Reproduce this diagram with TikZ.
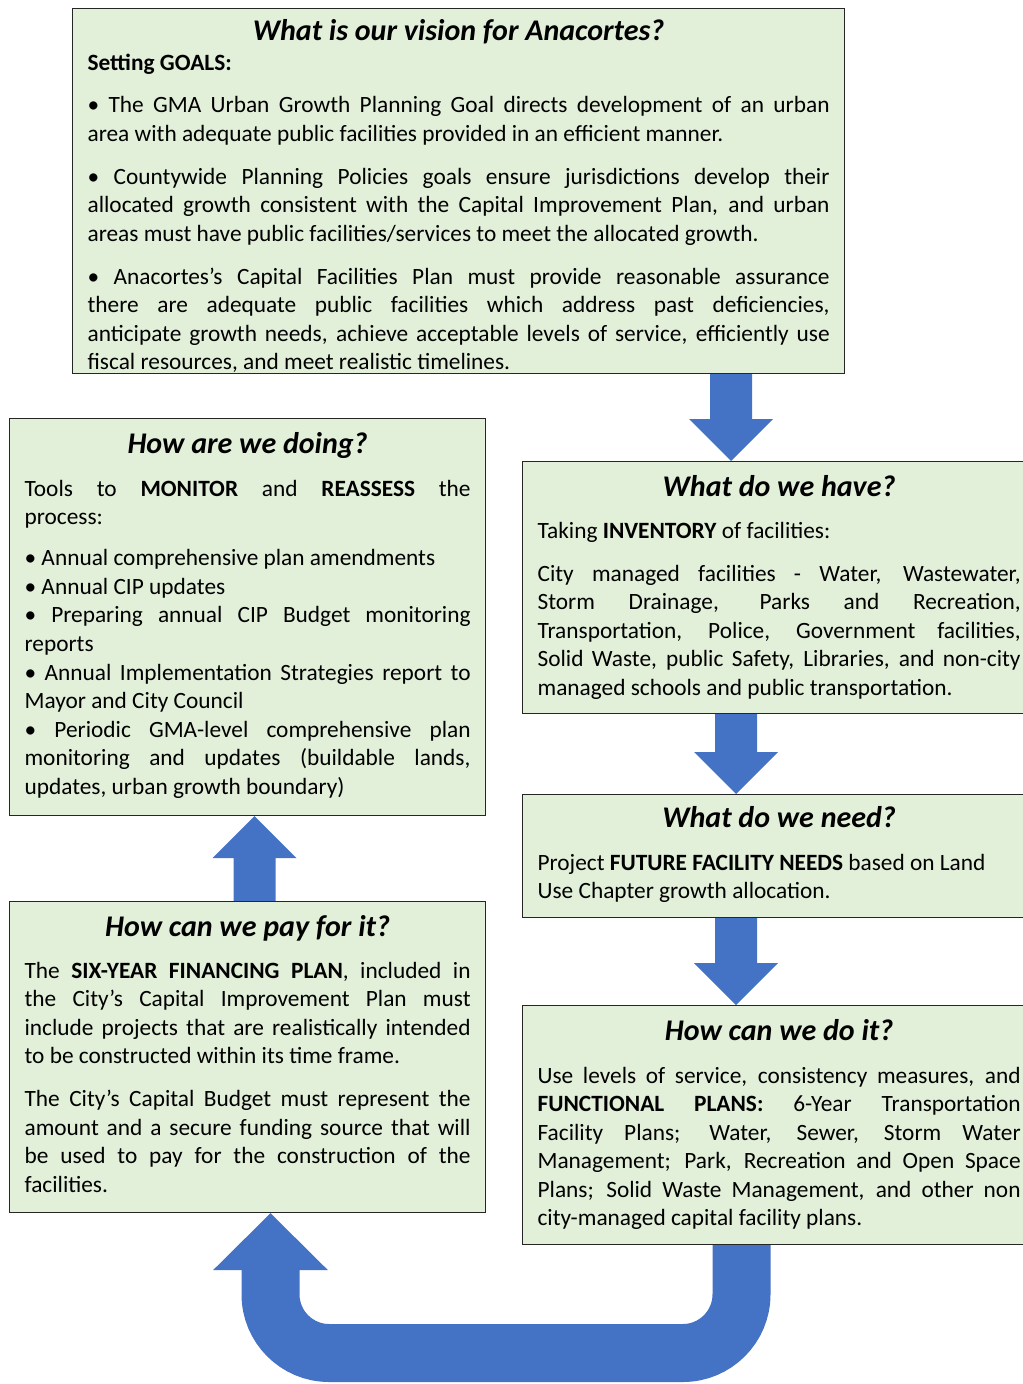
\documentclass[tikz,border=0pt]{standalone}
\usepackage{fontspec}
\setmainfont{Carlito}
\usetikzlibrary{calc,backgrounds}

\definecolor{boxgreen}{HTML}{E2EFD9}
\definecolor{flowblue}{HTML}{4472C4}

\newcommand{\bodysize}{\fontsize{17.5}{21.4}\selectfont}
\newcommand{\headsize}{\fontsize{22.5}{27}\selectfont\bfseries\itshape}
% title line of a panel: #1 = top of panel to baseline
\newcommand{\panelhead}[2]{{\centering\headsize\rule{0pt}{#1}#2\par}}
% block arrow from #1 (tail) to #2 (tip)
\newcommand{\blockarrow}[2]{%
  \coordinate (hb) at ($(#2)!31.5pt!(#1)$);
  \fill[flow] ($(#1)!15.75pt!90:(#2)$) -- ($(hb)!15.75pt!90:(#2)$)
    -- ($(hb)!31.5pt!90:(#2)$) -- (#2) -- ($(hb)!31.5pt!-90:(#2)$)
    -- ($(hb)!15.75pt!-90:(#2)$) -- ($(#1)!15.75pt!-90:(#2)$) -- cycle;
}

\tikzset{
  panel/.style={draw=black!85, line width=0.9pt, fill=boxgreen,
    inner xsep=11.25pt, inner ysep=0pt, anchor=north west},
  flow/.style={fill=flowblue}
}

\begin{document}
\begin{tikzpicture}[x=0.75pt,y=-0.75pt]
\useasboundingbox (0,0) rectangle (1023,1384);
\clip (0,0) rectangle (1023,1384);

\node[panel] (vision) at (72,8) {\parbox[t][273.75pt][t]{556.5pt}{%
  \panelhead{24pt}{What is our vision for Anacortes?}\vspace{0.7pt}\bodysize
  \textbf{Setting GOALS:}\par\vspace{10.5pt}
  • The GMA Urban Growth Planning Goal directs development of an urban\linebreak
  area with adequate public facilities provided in an efficient manner.\par\vspace{10.8pt}
  • Countywide Planning Policies goals ensure jurisdictions develop their\linebreak
  allocated growth consistent with the Capital Improvement Plan, and urban\linebreak
  areas must have public facilities/services to meet the allocated growth.\par\vspace{10.8pt}
  • Anacortes’s Capital Facilities Plan must provide reasonable assurance\linebreak
  there are adequate public facilities which address past deficiencies,\linebreak
  anticipate growth needs, achieve acceptable levels of service, efficiently use\linebreak
  fiscal resources, and meet realistic timelines.}};

\node[panel] (doing) at (9,418) {\parbox[t][297.75pt][t]{334.5pt}{%
  \panelhead{26.25pt}{How are we doing?}\vspace{10.5pt}\bodysize
  Tools to \textbf{MONITOR} and \textbf{REASSESS} the\linebreak process:\par\vspace{9.5pt}
  • Annual comprehensive plan amendments\par
  • Annual CIP updates\par
  • Preparing annual CIP Budget monitoring\linebreak reports\par
  • Annual Implementation Strategies report to\linebreak Mayor and City Council\par
  • Periodic GMA-level comprehensive plan\linebreak
  monitoring and updates (buildable lands,\linebreak
  updates, urban growth boundary)}};

\node[panel] (have) at (522,461) {\parbox[t][189pt][t]{362.25pt}{%
  \panelhead{26.25pt}{What do we have?}\vspace{9.7pt}\bodysize
  Taking \textbf{INVENTORY} of facilities:\par\vspace{10.8pt}
  City managed facilities - Water, Wastewater,\linebreak
  Storm Drainage, Parks and Recreation,\linebreak
  Transportation, Police, Government facilities,\linebreak
  Solid Waste, public Safety, Libraries, and non-city\linebreak
  managed schools and public transportation.}};

\node[panel] (need) at (522,794) {\parbox[t][92.25pt][t]{362.25pt}{%
  \panelhead{24.75pt}{What do we need?}\vspace{10.5pt}\bodysize
  Project \textbf{FUTURE FACILITY NEEDS} based on Land\\
  Use Chapter growth allocation.}};

\node[panel] (pay) at (9,901) {\parbox[t][233.25pt][t]{334.5pt}{%
  \panelhead{26.25pt}{How can we pay for it?}\vspace{9.7pt}\bodysize
  The \textbf{SIX-YEAR FINANCING PLAN}, included in\linebreak
  the City’s Capital Improvement Plan must\linebreak
  include projects that are realistically intended\linebreak
  to be constructed within its time frame.\par\vspace{10.8pt}
  The City’s Capital Budget must represent the\linebreak
  amount and a secure funding source that will\linebreak
  be used to pay for the construction of the\linebreak
  facilities.}};

\node[panel] (do) at (522,1005) {\parbox[t][179.25pt][t]{362.25pt}{%
  \panelhead{26.25pt}{How can we do it?}\vspace{10.5pt}\bodysize
  Use levels of service, consistency measures, and\linebreak
  \textbf{FUNCTIONAL PLANS:} 6-Year Transportation\linebreak
  Facility Plans; Water, Sewer, Storm Water\linebreak
  Management; Park, Recreation and Open Space\linebreak
  Plans; Solid Waste Management, and other non\linebreak
  city-managed capital facility plans.}};

\begin{scope}[on background layer]
  \coordinate (c1) at (731,0);
  \coordinate (c2) at (736,0);
  \coordinate (c3) at (254.5,0);
  \coordinate (a1) at (vision.south -| c1);
  \coordinate (b1) at (have.north -| c1);
  \coordinate (a2) at (have.south -| c2);
  \coordinate (b2) at (need.north -| c2);
  \coordinate (a3) at (need.south -| c2);
  \coordinate (b3) at (do.north -| c2);
  \coordinate (a4) at (pay.north -| c3);
  \coordinate (b4) at (doing.south -| c3);
  \blockarrow{a1}{b1}
  \blockarrow{a2}{b2}
  \blockarrow{a3}{b3}
  \blockarrow{a4}{b4}
  % the turn back from doing to paying
  \coordinate (ur) at (741.5,0);
  \coordinate (ul) at (270.5,0);
  \coordinate (ub) at (0,1353);
  \coordinate (tip) at (pay.south -| ul);
  \draw[flowblue, line width=43.5pt, rounded corners=44pt]
    (do.south -| ur) -- (ur |- ub) -- (ul |- ub) -- ($(tip)+(0,52)$);
  \fill[flow] ($(tip)+(-57.5,57)$) -- (tip) -- ($(tip)+(57.5,57)$) -- cycle;
\end{scope}
\end{tikzpicture}
\end{document}
